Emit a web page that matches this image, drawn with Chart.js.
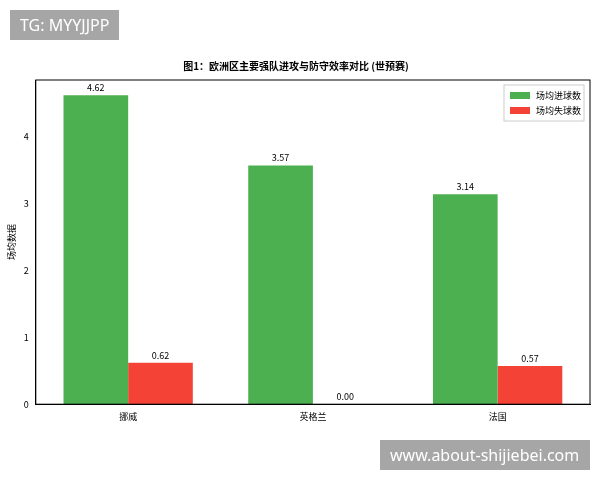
<!DOCTYPE html>
<html><head><meta charset="utf-8">
<script src="https://cdn.jsdelivr.net/npm/chart.js@4/dist/chart.umd.min.js"></script>
<style>
body{margin:0;background:#fff;font-family:"Noto Sans CJK SC",sans-serif}
#wrap{position:relative;width:600px;height:480px}
.wm{position:absolute;background:rgba(150,150,150,0.85);color:#fff;font-family:"Noto Sans",sans-serif;font-size:16px;line-height:30px;padding:0 10px}
</style></head><body>
<div id="wrap">
<canvas id="c" width="600" height="480"></canvas>
<div class="wm" style="left:10px;top:10px">TG: MYYJJPP</div>
<div class="wm" style="left:380px;top:440px;width:190px">www.about-shijiebei.com</div>
</div>
<script>
const categories = ["挪威", "英格兰", "法国"];
const goalsFor = [4.62, 3.57, 3.14];
const goalsAgainst = [0.62, 0.00, 0.57];
const yTicks = [0, 1, 2, 3, 4];

const font = {family: "Noto Sans CJK SC", size: 9};

const labels = {
  id: "labels",
  afterDatasetsDraw(chart) {
    const ctx = chart.ctx;
    ctx.save();
    ctx.font = "9px 'Noto Sans CJK SC'";
    ctx.fillStyle = "#000";
    ctx.textAlign = "center";
    ctx.textBaseline = "bottom";
    chart.data.datasets.forEach((ds, i) => {
      chart.getDatasetMeta(i).data.forEach((bar, j) => {
        ctx.fillText(ds.data[j].toFixed(2), bar.x, bar.y - 3);
      });
    });
    // legend box
    const a = chart.chartArea;
    const x0 = a.right - 86, y0 = a.top + 5;
    ctx.strokeStyle = "#ccc";
    ctx.fillStyle = "#fff";
    ctx.fillRect(x0, y0, 80, 36);
    ctx.strokeRect(x0, y0, 80, 36);
    ctx.textAlign = "left";
    ctx.textBaseline = "middle";
    chart.data.datasets.forEach((ds, i) => {
      ctx.fillStyle = ds.backgroundColor;
      ctx.fillRect(x0 + 6, y0 + 7 + i * 15, 20, 7);
      ctx.fillStyle = "#000";
      ctx.fillText(ds.label, x0 + 32, y0 + 11 + i * 15);
    });
    ctx.restore();
  }
};

new Chart(document.getElementById("c"), {
  type: "bar",
  data: {
    labels: categories,
    datasets: [
      {label: "场均进球数", data: goalsFor, backgroundColor: "#4caf50"},
      {label: "场均失球数", data: goalsAgainst, backgroundColor: "#f44336"}
    ]
  },
  options: {
    responsive: false,
    animation: false,
    layout: {padding: {left: 2, right: 10, top: 60, bottom: 55}},
    datasets: {bar: {categoryPercentage: 0.7, barPercentage: 1}},
    plugins: {
      legend: {display: false},
      tooltip: {enabled: false},
      title: {display: true, text: "图1：欧洲区主要强队进攻与防守效率对比 (世预赛)", color: "#000",
        font: {family: "Noto Sans CJK SC", size: 10}, padding: {top: 0, bottom: 8}}
    },
    scales: {
      x: {grid: {display: false, drawTicks: true, tickLength: 4},
        border: {color: "#000"},
        ticks: {color: "#000", font: font}},
      y: {min: 0, max: 4.85,
        afterBuildTicks: s => { s.ticks = yTicks.map(v => ({value: v})); },
        grid: {display: false, tickLength: 4},
        border: {color: "#000"},
        ticks: {color: "#000", font: font},
        title: {display: true, text: "场均数据", color: "#000", font: font}}
    }
  },
  plugins: [labels, {
    id: "frame",
    afterDraw(chart) {
      const a = chart.chartArea, ctx = chart.ctx;
      ctx.save(); ctx.strokeStyle = "#000"; ctx.lineWidth = 1;
      ctx.strokeRect(a.left, a.top, a.right - a.left, a.bottom - a.top);
      ctx.restore();
    }
  }]
});
</script>
</body></html>
